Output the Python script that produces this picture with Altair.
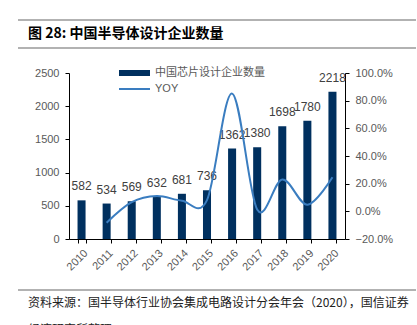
import altair as alt
import pandas as pd

years = ["2010", "2011", "2012", "2013", "2014", "2015", "2016", "2017", "2018", "2019", "2020"]
counts = [582, 534, 569, 632, 681, 736, 1362, 1380, 1698, 1780, 2218]
yoy_years = ["2011", "2012", "2013", "2014", "2015", "2016", "2017", "2018", "2019", "2020"]
yoy = [-0.082, 0.066, 0.111, 0.077, 0.081, 0.851, 0.013, 0.230, 0.048, 0.246]
left_ticks = [0, 500, 1000, 1500, 2000, 2500]
right_ticks = [-0.2, 0, 0.2, 0.4, 0.6, 0.8, 1.0]

title_text = "图 28:  中国半导体设计企业数量"
footer1 = "资料来源：国半导体行业协会集成电路设计分会年会（2020），国信证券"
footer2 = "经济研究所整理"
legend_bar = "中国芯片设计企业数量"
legend_line = "YOY"

BAR = "#00305f"
LINE = "#3a7dc0"
GRAY = "#595959"
CJK = "Noto Sans CJK SC"
LAT = "Liberation Sans"

bars_df = pd.DataFrame({"year": years, "count": counts})
line_df = pd.DataFrame({"year": yoy_years, "yoy": yoy})
one = alt.Data(values=[{"a": 1}])

xenc = alt.X(
    "year:N",
    sort=years,
    scale=alt.Scale(paddingInner=0.68, paddingOuter=0.34),
    axis=alt.Axis(
        title=None, labelAngle=-45, tickBand="extent", domainColor="black",
        tickColor="black", tickSize=4, labelPadding=4, labelColor=GRAY,
        labelFont=LAT, labelFontSize=11,
    ),
)

yleft = alt.Y(
    "count:Q",
    scale=alt.Scale(domain=[0, 2500]),
    axis=alt.Axis(
        title=None, values=left_ticks, format="d", grid=False, labelOverlap=False,
        domainColor="black", tickColor="black", tickSize=4, labelPadding=6,
        labelColor=GRAY, labelFont=LAT, labelFontSize=11,
    ),
)

bars = alt.Chart(bars_df).mark_bar(color=BAR).encode(x=xenc, y=yleft)

labels = alt.Chart(bars_df).mark_text(
    baseline="alphabetic", dy=-10, font=LAT, fontSize=12, color="#404040"
).encode(x=xenc, y=yleft, text="count:Q")

line = alt.Chart(line_df).mark_line(
    color=LINE, strokeWidth=2, interpolate="cardinal", tension=0
).encode(
    x=xenc,
    y=alt.Y(
        "yoy:Q",
        scale=alt.Scale(domain=[-0.2, 1.0]),
        axis=alt.Axis(
            title=None, orient="right", format=".1%", labelOverlap=False,
            values=right_ticks, grid=False,
            domainColor="black", tickColor="black", tickSize=4, labelPadding=6,
            labelColor=GRAY, labelFont=LAT, labelFontSize=11,
        ),
    ),
)

left = alt.layer(bars, labels)

# decorations (title band, footer, legend)
rule_top = alt.Chart(one).mark_rule(color="#999999", strokeWidth=1.5).encode(
    x=alt.value(-51), x2=alt.value(347), y=alt.value(-53))
rule_mid = alt.Chart(one).mark_rule(color="#999999", strokeWidth=1.5).encode(
    x=alt.value(-51), x2=alt.value(347), y=alt.value(-25))
rule_foot = alt.Chart(one).mark_rule(color="#999999", strokeWidth=1.5).encode(
    x=alt.value(-51), x2=alt.value(347), y=alt.value(217))
title = alt.Chart(one).mark_text(
    text=title_text, align="left", baseline="middle", font=CJK, fontSize=14,
    fontWeight=600, color="black").encode(x=alt.value(-41), y=alt.value(-39))
foot1 = alt.Chart(one).mark_text(
    text=footer1, align="left", baseline="middle", font=CJK, fontSize=12,
    color="#222222").encode(x=alt.value(-41), y=alt.value(230))
foot2 = alt.Chart(one).mark_text(
    text=footer2, align="left", baseline="middle", font=CJK, fontSize=12,
    color="#222222").encode(x=alt.value(-41), y=alt.value(257))
leg_rect = alt.Chart(one).mark_rect(color=BAR).encode(
    x=alt.value(50), x2=alt.value(81), y=alt.value(-3), y2=alt.value(3))
leg_line = alt.Chart(one).mark_rule(color=LINE, strokeWidth=2).encode(
    x=alt.value(50), x2=alt.value(81), y=alt.value(16))
leg_t1 = alt.Chart(one).mark_text(
    text=legend_bar, align="left", baseline="middle", font=CJK, fontSize=11,
    color=GRAY).encode(x=alt.value(86), y=alt.value(0))
leg_t2 = alt.Chart(one).mark_text(
    text=legend_line, align="left", baseline="middle", font=LAT, fontSize=11,
    color=GRAY).encode(x=alt.value(86), y=alt.value(16))

chart = alt.layer(
    left, line, rule_top, rule_mid, rule_foot, title, foot1, foot2,
    leg_rect, leg_line, leg_t1, leg_t2,
).resolve_scale(y="independent").properties(
    width=276, height=166,
    autosize=alt.AutoSizeParams(type="none"),
    padding={"left": 69, "top": 73, "right": 72, "bottom": 86},
    background="white",
).configure_view(stroke=None)

chart.save("out.html", embed_options={"renderer": "svg", "actions": False})
